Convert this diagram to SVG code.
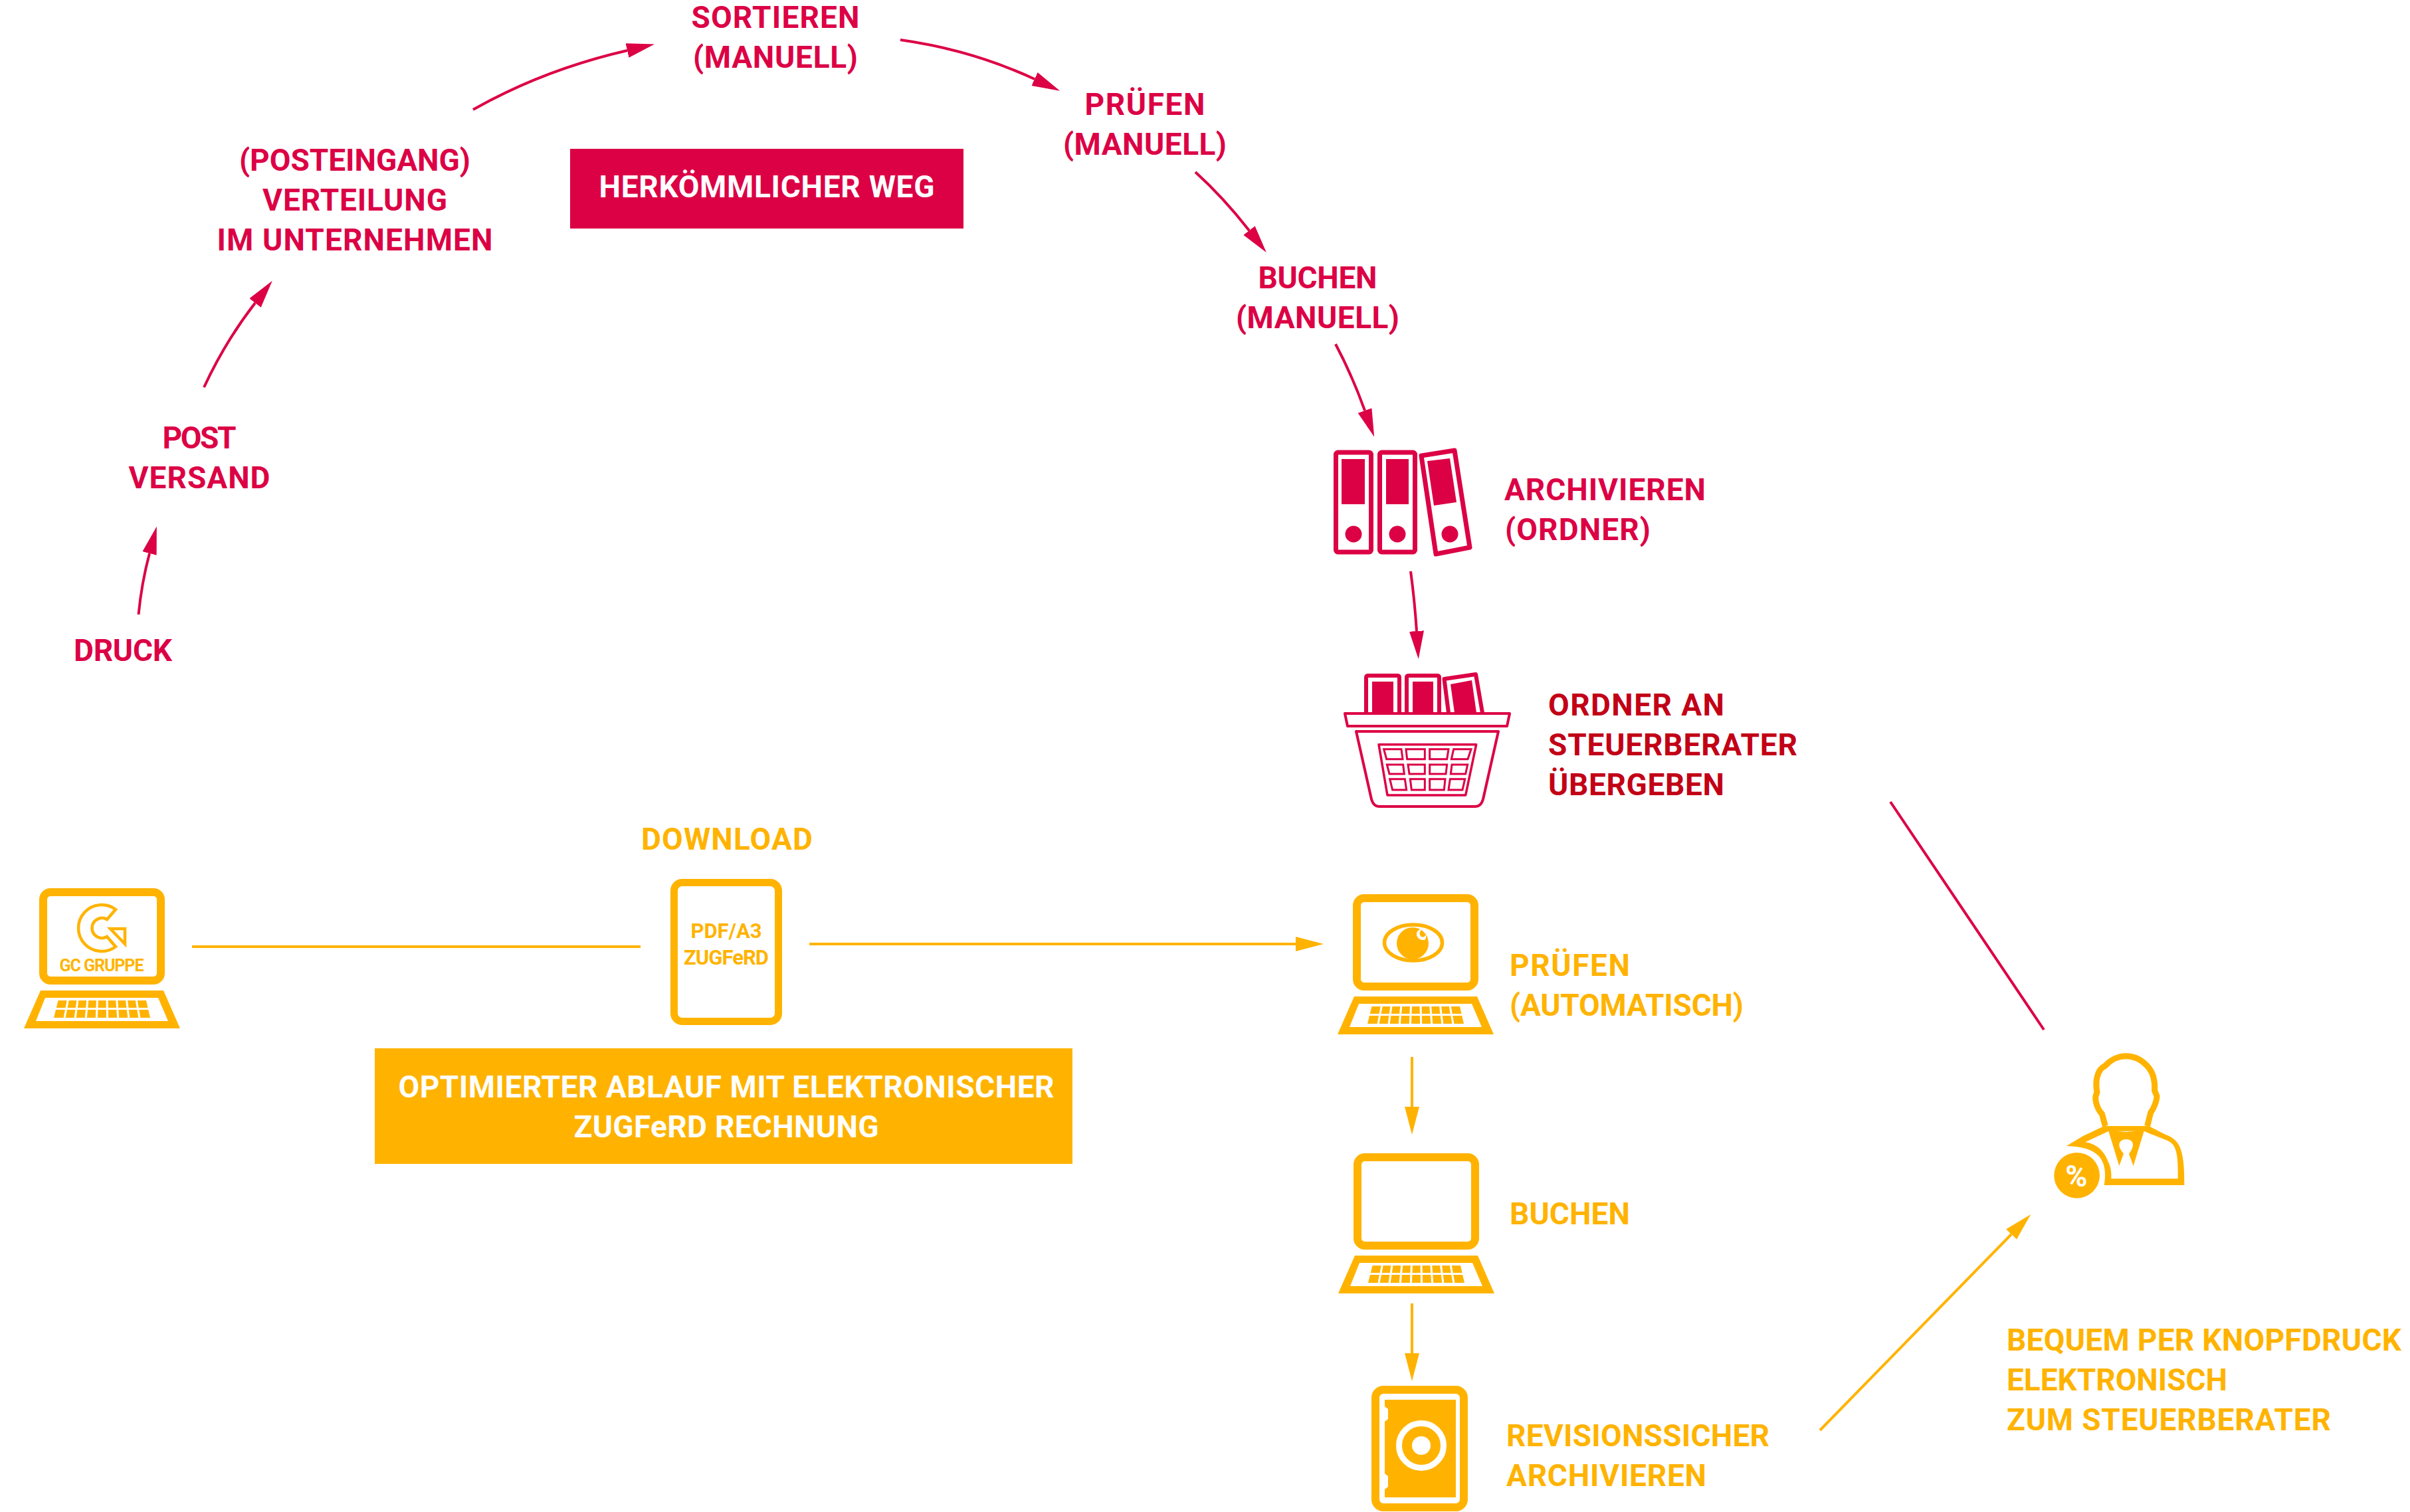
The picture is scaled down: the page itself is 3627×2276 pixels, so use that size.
<svg xmlns="http://www.w3.org/2000/svg" width="3627" height="2276" viewBox="0 0 3627 2276">
<style>
text{font-family:"Roboto","Liberation Sans",sans-serif;font-weight:700;font-size:46px}
.r{fill:#dc0045}.d{fill:#c20016}.o{fill:#ffb300}.w{fill:#fff}.m{text-anchor:middle}
.cr{fill:none;stroke:#dc0045;stroke-width:4}.co{fill:none;stroke:#ffb300;stroke-width:4}
.sr{fill:#fff;stroke:#dc0045;stroke-linejoin:round}.so{fill:#fff;stroke:#ffb300}
</style>
<defs>
<marker id="ar" markerUnits="userSpaceOnUse" markerWidth="42" markerHeight="24" refX="0" refY="12" orient="auto"><path d="M0 1L42 12L0 23Z" fill="#dc0045"/></marker>
<marker id="ao" markerUnits="userSpaceOnUse" markerWidth="42" markerHeight="24" refX="0" refY="12" orient="auto"><path d="M0 1L42 12L0 23Z" fill="#ffb300"/></marker>
<g id="laptop">
<rect class="so" x="65" y="1343" width="177" height="133" rx="11" stroke-width="12"/>
<path class="o" fill-rule="evenodd" d="M61 1491H246L271 1548H36ZM68 1502L54 1537H253L238 1502Z"/>
<path class="o" d="M87.500 1506H220L226 1532H81Z"/>
<path d="M81 1518.500H226M102.200 1506L97.100 1532M116.900 1506L113.200 1532M131.700 1506L129.300 1532M146.400 1506L145.400 1532M161.100 1506L161.600 1532M175.800 1506L177.700 1532M190.600 1506L193.800 1532M205.300 1506L209.900 1532" fill="none" stroke="#fff" stroke-width="3"/>
</g>
</defs>

<g id="connectors">
<path class="cr" marker-end="url(#ar)" d="M208.500 925Q213 878 225 833"/>
<path class="cr" marker-end="url(#ar)" d="M307 583Q339 514 384 456"/>
<path class="cr" marker-end="url(#ar)" d="M712 165Q818 105 944 76"/>
<path class="cr" marker-end="url(#ar)" d="M1355 60Q1462 75 1557 119"/>
<path class="cr" marker-end="url(#ar)" d="M1799 259Q1841 297 1880 347"/>
<path class="cr" marker-end="url(#ar)" d="M2010 518Q2035 565 2054 618"/>
<path class="cr" marker-end="url(#ar)" d="M2123 860Q2129 904 2132 950"/>
<path class="cr" d="M2845 1207L3076 1550"/>
<path class="co" d="M289 1425H964"/>
<path class="co" marker-end="url(#ao)" d="M1218 1421H1950"/>
<path class="co" marker-end="url(#ao)" d="M2125 1591V1666"/>
<path class="co" marker-end="url(#ao)" d="M2125 1962V2037"/>
<path class="co" marker-end="url(#ao)" d="M2739 2153L3027 1858"/>
</g>

<g id="druck"><text class="r m" x="185" y="995" textLength="148">DRUCK</text></g>
<g id="post"><text class="r m" x="300" y="675" textLength="111">POST</text><text class="r m" x="300" y="735" textLength="213">VERSAND</text></g>
<g id="verteilung"><text class="r m" x="534" y="257" textLength="348">(POSTEINGANG)</text><text class="r m" x="534" y="317" textLength="278">VERTEILUNG</text><text class="r m" x="534" y="377" textLength="415">IM UNTERNEHMEN</text></g>
<g id="sortieren"><text class="r m" x="1167" y="42" textLength="253">SORTIEREN</text><text class="r m" x="1167" y="102" textLength="248">(MANUELL)</text></g>
<g id="pruefen-manuell"><text class="r m" x="1723" y="173" textLength="181">PRÜFEN</text><text class="r m" x="1723" y="233" textLength="246">(MANUELL)</text></g>
<g id="buchen-manuell"><text class="r m" x="1983" y="434" textLength="179">BUCHEN</text><text class="r m" x="1983" y="494" textLength="246">(MANUELL)</text></g>
<g id="herkoemmlich"><rect class="r" x="858" y="224" width="592" height="120"/><text class="w m" x="1154" y="297" textLength="505">HERKÖMMLICHER WEG</text></g>

<g id="archivieren-ordner">
<g class="sr" stroke-width="7">
<rect x="2010.500" y="681" width="53" height="150" rx="3"/>
<rect x="2076.500" y="681" width="53" height="150" rx="3"/>
<path d="M2139 686L2189 678L2212 824L2161 834Z"/>
</g>
<path class="r" d="M2019 691H2054V759H2019ZM2086 691H2120V759H2086ZM2148 694L2182 690L2192 756L2158 761Z"/>
<circle class="r" cx="2037" cy="804" r="12.500"/><circle class="r" cx="2103" cy="804" r="12.500"/><circle class="r" cx="2182" cy="804" r="12.500"/>
<text class="r" x="2264" y="753" textLength="303">ARCHIVIEREN</text><text class="r" x="2265" y="813" textLength="219">(ORDNER)</text>
</g>

<g id="ordner-korb">
<g class="sr" stroke-width="6">
<path d="M2056 1073V1020Q2056 1017 2059 1017H2103Q2106 1017 2106 1020V1073"/>
<path d="M2117 1073V1020Q2117 1017 2120 1017H2163Q2166 1017 2166 1020V1073"/>
<path d="M2180 1073L2173.500 1022L2221 1015L2231 1073"/>
</g>
<path class="r" d="M2065 1026H2097V1073H2065ZM2126 1026H2157V1073H2126ZM2183 1030L2215 1024L2222 1073H2189Z"/>
<path class="sr" stroke-width="4" d="M2024 1074H2272L2268 1093H2028Z"/>
<path class="sr" stroke-width="4" d="M2041 1101H2255L2232 1203Q2229 1214 2220 1214H2076Q2067 1214 2064 1203Z"/>
<path class="sr" stroke-width="3.500" d="M2075 1120.700H2221.700L2205.700 1197H2088Z"/>
<path transform="translate(2060 1110) scale(.33333)" fill="none" stroke="#dc0045" stroke-width="9" d="M68 53H147L153 98H80ZM168 53H253V98H173ZM275 53H360L353 98H275ZM383 53H462L447 98H373ZM82 123H155L160 165H93ZM177 123H253V165H183ZM275 123H353L348 165H275ZM375 123H446L437 165H370ZM95 188H163L170 237H107ZM187 188H253V237H193ZM275 188H345L340 237H275ZM367 188H434L423 237H360Z"/>
<text class="d" x="2330" y="1077" textLength="265">ORDNER AN</text><text class="d" x="2330" y="1137" textLength="375">STEUERBERATER</text><text class="d" x="2330" y="1197" textLength="265">ÜBERGEBEN</text>
</g>

<g id="gc-laptop">
<use href="#laptop"/>
<path fill="none" stroke="#ffb300" stroke-width="4.500" stroke-linejoin="miter" d="M174 1369A35 35 0 1 0 174 1425L161 1410A15 15 0 1 1 161 1384Z"/>
<path fill="none" stroke="#ffb300" stroke-width="4.500" d="M166 1398H188V1421Z"/>
<text class="o m" x="153" y="1462" style="font-size:25px" textLength="127">GC GRUPPE</text>
</g>

<g id="download">
<text class="o m" x="1094" y="1279" textLength="258">DOWNLOAD</text>
<rect class="so" x="1014.500" y="1328.500" width="157" height="209" rx="12" stroke-width="11"/>
<text class="o m" x="1093" y="1412" style="font-size:31px" textLength="107">PDF/A3</text>
<text class="o m" x="1093" y="1452" style="font-size:31px" textLength="128">ZUGFeRD</text>
</g>

<g id="optimiert"><rect class="o" x="564" y="1578" width="1050" height="174"/><text class="w m" x="1093" y="1652" textLength="987">OPTIMIERTER ABLAUF MIT ELEKTRONISCHER</text><text class="w m" x="1093" y="1712" textLength="459">ZUGFeRD RECHNUNG</text></g>

<g id="pruefen-auto">
<use href="#laptop" x="1977" y="9"/>
<ellipse cx="2127" cy="1419" rx="43.500" ry="27" fill="none" stroke="#ffb300" stroke-width="5.500"/>
<circle class="o" cx="2126" cy="1420" r="24"/>
<path class="w" d="M2137 1399Q2131 1402 2132 1408Q2135 1416 2144 1415Q2147 1412 2146 1407Q2143 1412 2139 1410Q2134 1405 2139 1400Z"/>
<text class="o" x="2272" y="1469" textLength="181">PRÜFEN</text><text class="o" x="2272" y="1529" textLength="352">(AUTOMATISCH)</text>
</g>

<g id="buchen-auto"><use href="#laptop" x="1978" y="399"/><text class="o" x="2272" y="1843" textLength="181">BUCHEN</text></g>

<g id="revision">
<rect class="so" x="2070" y="2092" width="133" height="177" rx="12" stroke-width="12"/>
<path class="o" d="M2084 2107H2191V2254H2084V2242L2089 2238V2222L2084 2218V2140L2089 2136V2121L2084 2117Z"/>
<circle cx="2139" cy="2176" r="33.500" fill="none" stroke="#fff" stroke-width="9"/>
<circle class="w" cx="2139" cy="2176" r="14"/>
<text class="o" x="2267" y="2177" textLength="396">REVISIONSSICHER</text><text class="o" x="2267" y="2237" textLength="301">ARCHIVIEREN</text>
</g>

<g id="steuerberater">
<g transform="translate(3060 1560) scale(.33333)">
<path class="o" fill-rule="evenodd" d="M320 405L225 450L150 495C220 497 265 510 295 540C322 570 330 610 320 672H682C682 600 680 540 660 495C640 455 600 445 590 440L522 405ZM340 428L235 478C290 485 325 525 340 570C355 600 352 630 352 643H653C653 590 655 530 635 495C620 470 600 470 500 428Z"/>
<path class="o" d="M320 400Q360 432 420 432Q480 432 520 400L500 428L452 585L432 530C445 515 450 500 450 490C450 472 435 465 420 465C405 465 388 472 388 490C388 505 400 520 408 530L388 585L340 428Z"/>
<path fill="none" stroke="#ffb300" stroke-width="27" d="M325 405L310 350C290 330 278 290 282 270L288 252C280 210 285 150 325 133C350 105 385 89 418 89C460 89 495 110 520 140C545 170 550 210 548 245L558 270C558 290 545 325 530 345L515 405"/>
<circle class="o" cx="197" cy="628" r="103"/>
</g>
<text class="w m" x="3125" y="1786" style="font-size:45px" textLength="38">%</text>
<text class="o" x="3020" y="2033" textLength="594">BEQUEM PER KNOPFDRUCK</text><text class="o" x="3020" y="2093" textLength="332">ELEKTRONISCH</text><text class="o" x="3020" y="2153" textLength="488">ZUM STEUERBERATER</text>
</g>
</svg>
